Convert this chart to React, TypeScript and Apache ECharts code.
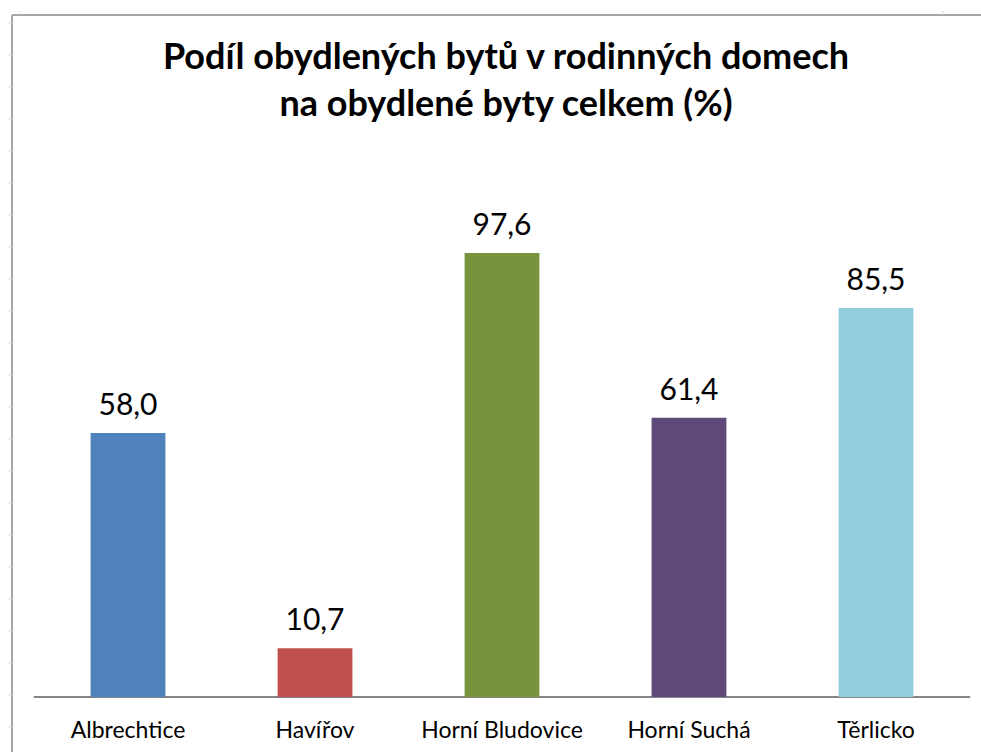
import React, { useEffect, useRef } from "react";
import * as echarts from "echarts";

const categories = ["Albrechtice", "Havířov", "Horní Bludovice", "Horní Suchá", "Těrlicko"];
const values = [58.0, 10.7, 97.6, 61.4, 85.5];
const colors = ["#4f81bd", "#c0504d", "#77933c", "#5f497a", "#92cddc"];
const titleText = "Podíl obydlených bytů v rodinných domech\nna obydlené byty celkem (%)";

export default function App() {
  const ref = useRef<HTMLDivElement>(null);
  useEffect(() => {
    if (!ref.current) return;
    const chart = echarts.init(ref.current, null, { renderer: "svg" });
    const ticks: any[] = [];
    for (let y = 23; y < 752; y += 32) {
      ticks.push({ type: "line", shape: { x1: 8, y1: y, x2: 12, y2: y }, style: { stroke: "#d9d9d9", lineWidth: 1 }, silent: true });
    }
    ticks.push({ type: "line", shape: { x1: 20, y1: 11, x2: 20, y2: 15 }, style: { stroke: "#d9d9d9", lineWidth: 1 } });
    ticks.push({ type: "line", shape: { x1: 943, y1: 11, x2: 943, y2: 15 }, style: { stroke: "#d9d9d9", lineWidth: 1 } });
    chart.setOption({
      animation: false,
      backgroundColor: "#ffffff",
      title: {
        text: titleText,
        left: 501,
        textAlign: "center",
        top: 26,
        textStyle: { fontFamily: "Lato", fontWeight: "bold", fontSize: 36, lineHeight: 47, color: "#000000" },
      },
      graphic: [
        { type: "line", shape: { x1: 12, y1: 15, x2: 981, y2: 15 }, style: { stroke: "#a6a6a6", lineWidth: 2 } },
        { type: "line", shape: { x1: 12, y1: 15, x2: 12, y2: 752 }, style: { stroke: "#a6a6a6", lineWidth: 2 } },
        ...ticks,
      ],
      grid: { left: 34.5, right: 981 - 969.5, top: 242, bottom: 55 },
      xAxis: {
        type: "category",
        data: categories,
        axisLine: { lineStyle: { color: "#868686", width: 2 } },
        axisTick: { show: false },
        axisLabel: { fontFamily: "Lato", fontSize: 23, color: "#000000", margin: 20, interval: 0, hideOverlap: false },
      },
      yAxis: { type: "value", min: 0, max: 100, show: false, splitLine: { show: false } },
      series: [
        {
          type: "bar",
          barWidth: "40%",
          data: values.map((v, i) => ({ value: v, itemStyle: { color: colors[i] } })),
          label: {
            show: true,
            position: "top",
            distance: 15,
            fontFamily: "Lato",
            fontSize: 30,
            color: "#000000",
            formatter: (p: any) => p.value.toFixed(1).replace(".", ","),
          },
        },
      ],
    });
    return () => chart.dispose();
  }, []);
  return <div ref={ref} style={{ position: "fixed", left: 0, top: 0, width: 981, height: 752 }} />;
}
